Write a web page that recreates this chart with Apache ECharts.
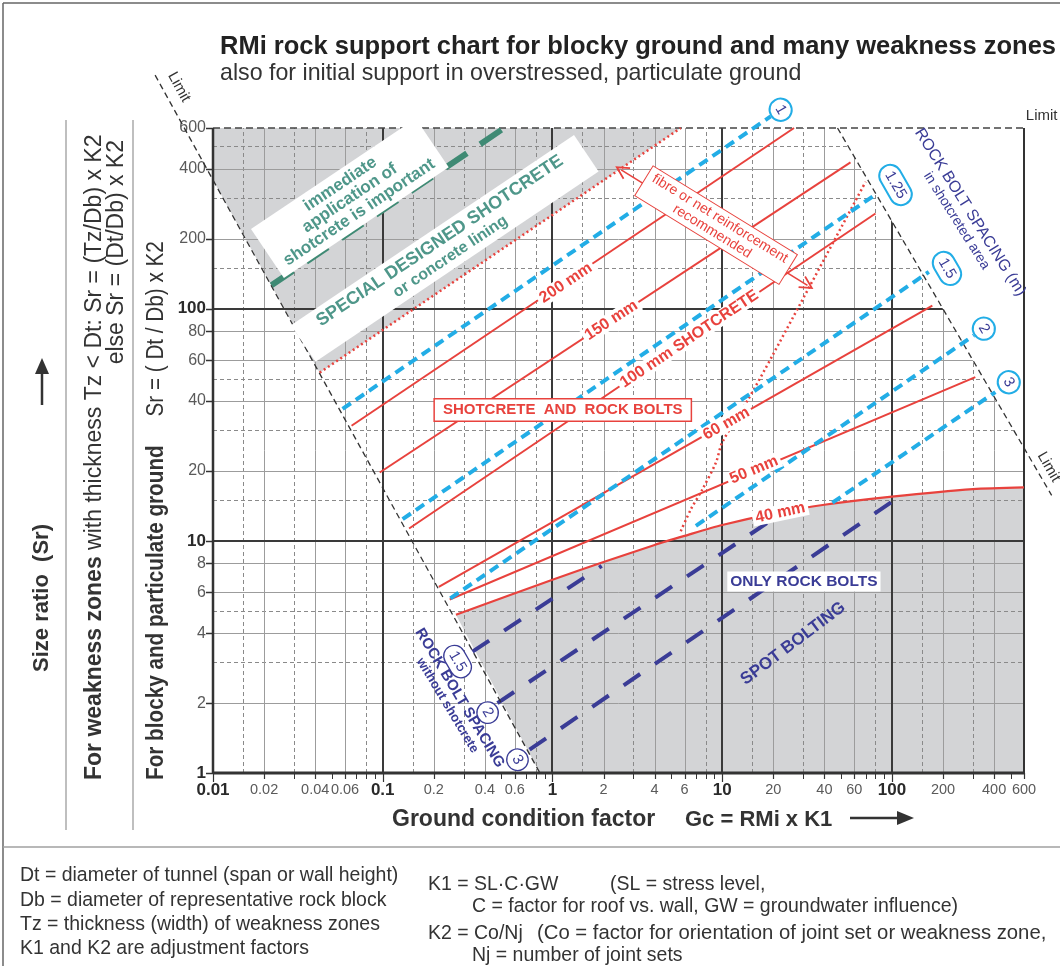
<!DOCTYPE html>
<html>
<head>
<meta charset="utf-8">
<title>RMi rock support chart</title>
<script src="https://cdn.jsdelivr.net/npm/echarts@6.0.0/dist/echarts.min.js"></script>
<style>
  html, body { margin: 0; padding: 0; background: #fff; }
  #chart { width: 1060px; height: 966px; }
</style>
</head>
<body>
<div id="chart"></div>
<script>
// ---------- axes ----------
const X_RANGE = [0.01, 600];
const Y_RANGE = [1, 600];
const xTickLabels = [0.01, 0.02, 0.04, 0.06, 0.1, 0.2, 0.4, 0.6, 1, 2, 4, 6, 10, 20, 40, 60, 100, 200, 400, 600];
const yTickLabels = [1, 2, 4, 6, 8, 10, 20, 40, 60, 80, 100, 200, 400, 600];
const xTickMarks = [0.02, 0.03, 0.04, 0.05, 0.06, 0.07, 0.08, 0.09,
  0.2, 0.3, 0.4, 0.5, 0.6, 0.7, 0.8, 0.9, 2, 3, 4, 5, 6, 7, 8, 9,
  20, 30, 40, 50, 60, 70, 80, 90, 200, 300, 400, 500];
const xGridMajor = [0.1, 1, 10, 100];
const xGridSolid = [0.02, 0.04, 0.06, 0.2, 0.4, 0.6, 2, 4, 6, 20, 40, 60, 200, 400];
const xGridDashed = [0.015, 0.03, 0.08, 0.15, 0.3, 0.8, 1.5, 3, 8, 15, 30, 80, 150, 300];
const yGridMajor = [10, 100];
const yGridSolid = [2, 4, 6, 8, 20, 40, 60, 80, 200, 400];
const yGridDashed = [3, 5, 15, 30, 50, 150, 300, 500];

// ---------- limits of the chart (Gc, Sr) ----------
const limitLeft = [[0.00456, 1014], [0.843, 1]];
const limitRight = [[47.8, 600], [873, 15.7]];
const limitTop = [[0.01, 600], [600, 600]];

// ---------- shotcrete thickness lines (Gc, Sr) ----------
const shot200 = [[0.0655, 31.3], [26.5, 600]];
const shot150 = [[0.096, 19.7], [57, 427]];
const shot100 = [[0.143, 11.3], [80, 257]];
const shot60 = [[0.214, 6.34], [173, 103]];
const shot50 = [[0.248, 5.59], [310, 50.7]];
const shot40 = [[0.27, 4.8], [1, 6.8], [2, 8.1], [4, 9.6], [6, 10.5], [10, 11.7], [20, 13.1], [40, 14.3], [100, 15.5], [300, 16.7], [600, 17.0]];

// ---------- rock bolt spacing in shotcreted area (m) ----------
const bolt1 = [[0.058, 37], [19.3, 673]];
const bolt125 = [[0.131, 12.4], [82, 314]];
const bolt15 = [[0.25, 5.65], [165, 144]];
const bolt2 = [[7.0, 11.6], [304, 76.7]];
const bolt3 = [[44.6, 14.6], [407, 43.7]];

// ---------- rock bolt spacing without shotcrete (m) ----------
const spot15 = [[0.338, 3.33], [1.95, 7.8]];
const spot2 = [[0.474, 2.0], [18.9, 12.1]];
const spot3 = [[0.733, 1.26], [105, 15.1]];

// ---------- other boundaries ----------
const immediateLine = [[0.0221, 126], [0.5, 589]];
const specialLimit = [[0.0425, 53], [5.7, 600]];
const fibreLimit = [[5.7, 11.0], [6.55, 13.7], [7.66, 16.7], [9.2, 21.8], [10, 26.5], [14.1, 40.2], [19.8, 62.9], [70, 352]];
const fibreArrow = [[2.54, 396], [31.8, 126]];

// ---------- shaded zones ----------
const zoneSpecial = [[0.01, 600], [5.7, 600], [0.0425, 53], [0.01, 358]];
const zoneBoltsOnly = [[0.843, 1], [600, 1]].concat(shot40.slice().reverse());
const zoneOutside = [[47.8, 600], [600, 600], [600, 25.1]];

// ---------- circled spacing values ----------
const circlesShot = [['1', [22.1, 719]], ['1.25', [105, 341]], ['1.5', [211, 149]], ['2', [348, 82]], ['3', [488, 48.2]]];
const circlesNoShot = [['1.5', [0.276, 3.02]], ['2', [0.415, 1.82]], ['3', [0.622, 1.14]]];

// ---------- texts in the diagram ----------
const notes = [
  ['200 mm', [1.2, 129], 33.8, 'thick'],
  ['150 mm', [2.22, 89], 33.2, 'thick'],
  ['100 mm SHOTCRETE', [6.4, 74], 33.9, 'thick'],
  ['60 mm', [10.6, 32], 29.6, 'thick'],
  ['50 mm', [15.4, 20.2], 22.8, 'thick'],
  ['40 mm', [22, 13.2], 12, 'thick'],
  ['SHOTCRETE  AND  ROCK BOLTS', [1.15, 36.6], 0, 'redBox'],
  ['ONLY ROCK BOLTS', [30.3, 6.68], 0, 'navyBox'],
  ['SPOT BOLTING', [26.2, 3.61], 37, 'spot'],
  ['fibre or net reinforcement\nrecommended', [9.2, 229], -31.6, 'fibre'],
  ['immediate\napplication of\nshotcrete is important', [0.064, 299], 33.9, 'teal'],
  ['{a|SPECIAL DESIGNED SHOTCRETE}\n{b|or concrete lining}', [0.232, 182], 33.9, 'tealBand'],
  ['ROCK BOLT SPACING (m)\n{s|in shotcreted area}', [265, 250], -57.8, 'navyThin'],
  ['ROCK BOLT SPACING\n{s|without shotcrete}', [0.262, 2.03], -59, 'navyBold'],
  ['Limit', [0.0063, 900], -61, 'limit'],
  ['Limit', [839, 20.8], -60, 'limit'],
  ['Limit', [762, 675], 0, 'limit']
];

// ---------- styles ----------
const FONT = '"Liberation Sans", Arial, sans-serif';
const RED = '#e8423d';
const BLUE = '#22ade6';
const NAVY = '#3a3c96';
const TEAL = '#3f8a74';
const TEAL_TXT = '#4f978a';
const GREY_FILL = '#d3d4d6';

const labelStyles = {
  thick: { color: RED, fontWeight: 'bold', fontSize: 16, backgroundColor: '#fff', padding: [0, 3] },
  redBox: { color: RED, fontWeight: 'bold', fontSize: 15, backgroundColor: '#fff', borderColor: RED, borderWidth: 1.5, padding: [3, 8] },
  navyBox: { color: NAVY, fontWeight: 'bold', fontSize: 15.5, backgroundColor: '#fff', padding: [2, 3] },
  spot: { color: NAVY, fontWeight: 'bold', fontSize: 17 },
  fibre: { color: RED, fontSize: 14, lineHeight: 15, backgroundColor: '#fff', borderColor: RED, borderWidth: 1, padding: [2, 6], align: 'center' },
  teal: { color: TEAL_TXT, fontWeight: 'bold', fontSize: 17, lineHeight: 17, backgroundColor: '#fff', padding: [4, 10], align: 'center' },
  tealBand: { backgroundColor: '#fff', padding: [3, 24], align: 'center',
    rich: { a: { color: TEAL_TXT, fontWeight: 'bold', fontSize: 18, lineHeight: 20, fontFamily: FONT },
            b: { color: TEAL_TXT, fontWeight: 'bold', fontSize: 16, lineHeight: 18, fontFamily: FONT } } },
  navyThin: { color: NAVY, fontSize: 16, lineHeight: 17, align: 'center',
    rich: { s: { color: NAVY, fontSize: 14, lineHeight: 15, fontFamily: FONT } } },
  navyBold: { color: NAVY, fontWeight: 'bold', fontSize: 15, lineHeight: 15, align: 'center',
    rich: { s: { color: NAVY, fontWeight: 'bold', fontSize: 13, lineHeight: 14, fontFamily: FONT } } },
  limit: { color: '#333', fontSize: 15 }
};

const gridStyle = {
  major: { stroke: '#3a3a3a', lineWidth: 2 },
  solid: { stroke: '#9c9c9c', lineWidth: 1 },
  dashed: { stroke: '#8a8a8a', lineWidth: 1, lineDash: [4, 3] }
};

// ---------- helpers ----------
function lineSeries(data, lineStyle, z, extra) {
  return Object.assign({
    type: 'line', data: data, symbol: 'none', silent: true, clip: false, z: z,
    lineStyle: lineStyle, animation: false
  }, extra || {});
}

function gridSeries(vals, dir, style, z) {
  return {
    type: 'custom', coordinateSystem: 'cartesian2d', silent: true, clip: false, z: z, animation: false,
    data: vals.map(v => dir === 'v' ? [v, Y_RANGE[0]] : [X_RANGE[0], v]),
    renderItem: function (params, api) {
      const v = api.value(dir === 'v' ? 0 : 1);
      const a = dir === 'v' ? api.coord([v, Y_RANGE[0]]) : api.coord([X_RANGE[0], v]);
      const b = dir === 'v' ? api.coord([v, Y_RANGE[1]]) : api.coord([X_RANGE[1], v]);
      const off = style.lineWidth % 2 === 1 ? 0.5 : 0;
      const shape = dir === 'v'
        ? { x1: Math.round(a[0]) + off, y1: a[1], x2: Math.round(b[0]) + off, y2: b[1] }
        : { x1: a[0], y1: Math.round(a[1]) + off, x2: b[0], y2: Math.round(b[1]) + off };
      return { type: 'line', shape: shape, style: { stroke: style.stroke, lineWidth: style.lineWidth, lineDash: style.lineDash || null } };
    }
  };
}

function zoneSeries(points, fill, z) {
  return {
    type: 'custom', coordinateSystem: 'cartesian2d', silent: true, clip: false, z: z, animation: false,
    data: points,
    renderItem: function (params, api) {
      if (params.dataIndex !== 0) return null;
      return { type: 'polygon', shape: { points: points.map(p => api.coord(p)) }, style: { fill: fill } };
    }
  };
}

// dashed guide drawn from chart coordinates, free to run past the plot frame
function guideSeries(points, stroke, width, dash, z) {
  return {
    type: 'custom', coordinateSystem: 'cartesian2d', silent: true, clip: false, z: z, animation: false,
    data: points,
    renderItem: function (params, api) {
      if (params.dataIndex !== 0) return null;
      const a = api.coord(points[0]), b = api.coord(points[points.length - 1]);
      return { type: 'line', shape: { x1: a[0], y1: a[1], x2: b[0], y2: b[1] }, style: { stroke: stroke, lineWidth: width, lineDash: dash } };
    }
  };
}

function isDecade(v) { return Math.abs(Math.log10(v) - Math.round(Math.log10(v))) < 1e-9; }

function tickLabelSeries(vals, axis) {
  return {
    type: 'custom', coordinateSystem: 'cartesian2d', silent: true, clip: false, z: 20, animation: false,
    data: vals.map(v => axis === 'x' ? [v, Y_RANGE[0]] : [X_RANGE[0], v]),
    renderItem: function (params, api) {
      const v = api.value(axis === 'x' ? 0 : 1);
      const p = axis === 'x' ? api.coord([v, Y_RANGE[0]]) : api.coord([X_RANGE[0], v]);
      const major = isDecade(v);
      const font = major ? 'bold 17px ' + FONT : (axis === 'x' ? '14.5px ' : '16px ') + FONT;
      const txt = { type: 'text', style: { text: String(v), font: font, fill: major ? '#2a2a2a' : '#5a5a5a' } };
      const tickLen = axis === 'x' ? (major ? 9 : 6) : 7;
      const tick = axis === 'x'
        ? { type: 'line', shape: { x1: Math.round(p[0]) + 0.5, y1: p[1], x2: Math.round(p[0]) + 0.5, y2: p[1] + tickLen }, style: { stroke: '#333', lineWidth: 1.2 } }
        : { type: 'line', shape: { x1: p[0] - tickLen, y1: Math.round(p[1]) + 0.5, x2: p[0], y2: Math.round(p[1]) + 0.5 }, style: { stroke: '#333', lineWidth: 1.5 } };
      if (axis === 'x') {
        txt.x = p[0]; txt.y = p[1] + 17;
        txt.style.align = 'center'; txt.style.textAlign = 'center';
      } else {
        txt.x = p[0] - 7; txt.y = p[1];
        txt.style.align = 'right'; txt.style.textAlign = 'right';
      }
      txt.style.verticalAlign = 'middle'; txt.style.textVerticalAlign = 'middle';
      return { type: 'group', children: [tick, txt] };
    }
  };
}

function minorTickSeries(vals) {
  return {
    type: 'custom', coordinateSystem: 'cartesian2d', silent: true, clip: false, z: 20, animation: false,
    data: vals.map(v => [v, Y_RANGE[0]]),
    renderItem: function (params, api) {
      const p = api.coord([api.value(0), Y_RANGE[0]]);
      const x = Math.round(p[0]) + 0.5;
      return { type: 'line', shape: { x1: x, y1: p[1], x2: x, y2: p[1] + 6 }, style: { stroke: '#333', lineWidth: 1 } };
    }
  };
}

function noteSeries(items, z) {
  return {
    type: 'scatter', silent: true, clip: false, z: z, animation: false, symbolSize: 0.001,
    itemStyle: { color: 'rgba(0,0,0,0)', opacity: 1 },
    data: items.map(n => ({
      value: n[1],
      label: Object.assign({ show: true, position: 'inside', formatter: n[0], rotate: n[2], fontFamily: FONT, align: 'center', verticalAlign: 'middle', opacity: 1 }, labelStyles[n[3]])
    }))
  };
}

function circleSeries(items, ring) {
  return {
    type: 'scatter', silent: true, clip: false, z: 30, animation: false, symbolSize: 0.001,
    itemStyle: { color: 'rgba(0,0,0,0)', opacity: 1 },
    data: items.map(c => ({
      value: c[1],
      label: { show: true, position: 'inside', formatter: c[0], rotate: -60, fontFamily: FONT, fontSize: 15, color: NAVY, opacity: 1,
        backgroundColor: '#fff', borderColor: ring, borderWidth: ring === BLUE ? 2 : 1.3, borderRadius: 13, padding: [3, 6, 2, 6], align: 'center', verticalAlign: 'middle' }
    }))
  };
}

// chevron arrow head, drawn by markLine at both ends
const ARROW = 'path://M0,14 L7,0 L14,14 L12.4,14.8 L7,4 L1.6,14.8 Z';

const series = [
  zoneSeries(zoneSpecial, GREY_FILL, 1),
  zoneSeries(zoneBoltsOnly, GREY_FILL, 1),
  gridSeries(xGridDashed, 'v', gridStyle.dashed, 2),
  gridSeries(yGridDashed, 'h', gridStyle.dashed, 2),
  gridSeries(xGridSolid, 'v', gridStyle.solid, 2),
  gridSeries(yGridSolid, 'h', gridStyle.solid, 2),
  gridSeries(xGridMajor, 'v', gridStyle.major, 3),
  gridSeries(yGridMajor, 'h', gridStyle.major, 3),
  zoneSeries(zoneOutside, '#fff', 4),
  // frame
  lineSeries([[X_RANGE[0], Y_RANGE[0]], [X_RANGE[0], Y_RANGE[1]]], { color: '#333', width: 2.5 }, 5),
  lineSeries([[X_RANGE[0], Y_RANGE[0]], [X_RANGE[1], Y_RANGE[0]]], { color: '#333', width: 3 }, 5),
  lineSeries([[X_RANGE[1], Y_RANGE[0]], [X_RANGE[1], Y_RANGE[1]]], { color: '#333', width: 2 }, 5),
  guideSeries(limitTop, '#444', 1.6, [7, 4], 5),
  guideSeries(limitLeft, '#333', 1.3, [6, 4], 21),
  guideSeries(limitRight, '#333', 1.3, [6, 4], 5),
  // boundaries
  lineSeries(immediateLine, { color: TEAL, width: 6, type: [26, 16] }, 6),
  lineSeries(specialLimit, { color: RED, width: 2.5, type: [2, 3] }, 6),
  lineSeries(fibreLimit, { color: RED, width: 2.5, type: [2, 3] }, 6, { smooth: 0.3 }),
  // shotcrete thickness
  lineSeries(shot200, { color: RED, width: 2 }, 7),
  lineSeries(shot150, { color: RED, width: 2 }, 7),
  lineSeries(shot100, { color: RED, width: 2 }, 7),
  lineSeries(shot60, { color: RED, width: 2 }, 7),
  lineSeries(shot50, { color: RED, width: 2 }, 7),
  lineSeries(shot40, { color: RED, width: 2.2 }, 7, { smooth: 0.25 }),
  // bolt spacing
  lineSeries(bolt1, { color: BLUE, width: 4, type: [10, 6] }, 8),
  lineSeries(bolt125, { color: BLUE, width: 4, type: [10, 6] }, 8),
  lineSeries(bolt15, { color: BLUE, width: 4, type: [10, 6] }, 8),
  lineSeries(bolt2, { color: BLUE, width: 4, type: [10, 6] }, 8),
  lineSeries(bolt3, { color: BLUE, width: 4, type: [10, 6] }, 8),
  lineSeries(spot15, { color: NAVY, width: 4, type: [20, 18] }, 8),
  lineSeries(spot2, { color: NAVY, width: 4, type: [20, 18] }, 8),
  lineSeries(spot3, { color: NAVY, width: 4, type: [20, 18] }, 8),
  // reinforcement arrow
  {
    type: 'line', data: [], silent: true, z: 9, animation: false,
    markLine: {
      silent: true, animation: false, symbol: [ARROW, ARROW], symbolSize: [14, 14],
      lineStyle: { color: RED, width: 1.6, type: 'solid' }, label: { show: false },
      data: [[{ coord: fibreArrow[0] }, { coord: fibreArrow[1] }]]
    }
  },
  // axis ticks and labels
  minorTickSeries(xTickMarks),
  tickLabelSeries(xTickLabels, 'x'),
  tickLabelSeries(yTickLabels, 'y'),
  // texts
  noteSeries(notes, 25),
  circleSeries(circlesShot, BLUE),
  circleSeries(circlesNoShot, NAVY)
];

// ---------- page texts ----------
function text(x, y, str, font, opts) {
  opts = opts || {};
  const el = { type: 'text', x: x, y: y, silent: true,
    style: { text: str, font: font, fill: opts.fill || '#333', align: opts.align || 'left', verticalAlign: 'middle' } };
  if (opts.rich) el.style.rich = opts.rich;
  if (opts.rotation) el.rotation = opts.rotation;
  if (opts.scaleX) el.scaleX = opts.scaleX;
  return el;
}
const UP = Math.PI / 2;
const FOOT = '20.5px ' + FONT;
const FOOT_OPTS = { scaleX: 0.95 };

const graphics = [
  { type: 'line', silent: true, shape: { x1: 3, y1: 3, x2: 1060, y2: 3 }, style: { stroke: '#666', lineWidth: 1.5 } },
  { type: 'line', silent: true, shape: { x1: 3, y1: 3, x2: 3, y2: 966 }, style: { stroke: '#666', lineWidth: 1.5 } },
  { type: 'line', silent: true, shape: { x1: 3, y1: 847, x2: 1060, y2: 847 }, style: { stroke: '#a0a0a0', lineWidth: 1.5 } },
  { type: 'line', silent: true, shape: { x1: 66, y1: 120, x2: 66, y2: 830 }, style: { stroke: '#aaa', lineWidth: 1.5 } },
  { type: 'line', silent: true, shape: { x1: 133, y1: 120, x2: 133, y2: 830 }, style: { stroke: '#aaa', lineWidth: 1.5 } },
  // title
  text(220, 47, 'RMi rock support chart for blocky ground and many weakness zones', 'bold 25.5px ' + FONT, { fill: '#222' }),
  text(220, 74, 'also for initial support in overstressed, particulate ground', '23.2px ' + FONT),
  // x axis name
  text(392, 820, 'Ground condition factor', 'bold 23px ' + FONT),
  text(685, 820, 'Gc = RMi x K1', 'bold 22px ' + FONT),
  { type: 'line', silent: true, shape: { x1: 850, y1: 818, x2: 900, y2: 818 }, style: { stroke: '#333', lineWidth: 2.5 } },
  { type: 'polygon', silent: true, shape: { points: [[897, 811], [914, 818], [897, 825]] }, style: { fill: '#333' } },
  // y axis names
  text(42, 598, 'Size ratio  (Sr)', 'bold 22px ' + FONT, { rotation: UP, align: 'center' }),
  { type: 'line', silent: true, shape: { x1: 42, y1: 405, x2: 42, y2: 372 }, style: { stroke: '#333', lineWidth: 2.5 } },
  { type: 'polygon', silent: true, shape: { points: [[35, 374], [42, 358], [49, 374]] }, style: { fill: '#333' } },
  text(95, 780, '{b|For weakness zones} with thickness Tz < Dt: Sr = (Tz/Db) x K2', '23px ' + FONT,
    { rotation: UP, rich: { b: { font: 'bold 23px ' + FONT, fill: '#333' } } }),
  text(117, 140, 'else Sr = (Dt/Db) x K2', '23px ' + FONT, { rotation: UP, align: 'right' }),
  text(157, 780, '{b|For blocky and particulate ground}     Sr = ( Dt / Db) x K2', '23px ' + FONT,
    { rotation: UP, scaleX: 0.9, rich: { b: { font: 'bold 23px ' + FONT, fill: '#333' } } }),
  // footnotes
  text(20, 875, 'Dt = diameter of tunnel (span or wall height)', FOOT, FOOT_OPTS),
  text(20, 900, 'Db = diameter of representative rock block', FOOT, FOOT_OPTS),
  text(20, 924, 'Tz = thickness (width) of weakness zones', FOOT, FOOT_OPTS),
  text(20, 948, 'K1 and K2 are adjustment factors', FOOT, FOOT_OPTS),
  text(428, 884, 'K1 = SL\u00b7C\u00b7GW', FOOT, FOOT_OPTS),
  text(610, 884, '(SL = stress level,', FOOT, FOOT_OPTS),
  text(472, 906, 'C = factor for roof vs. wall, GW = groundwater influence)', FOOT, FOOT_OPTS),
  text(428, 933, 'K2 = Co/Nj', FOOT, FOOT_OPTS),
  text(537, 933, '(Co = factor for orientation of joint set or weakness zone,', FOOT, { scaleX: 0.99 }),
  text(472, 955, 'Nj = number of joint sets', FOOT, FOOT_OPTS)
];

const chart = echarts.init(document.getElementById('chart'), null, { renderer: 'canvas' });
chart.setOption({
  animation: false,
  backgroundColor: '#fff',
  textStyle: { fontFamily: FONT },
  grid: { left: 213, right: 36, top: 128, bottom: 193 },
  xAxis: {
    type: 'log', logBase: 10, min: X_RANGE[0], max: X_RANGE[1],
    axisLine: { show: false }, axisTick: { show: false }, axisLabel: { show: false }, splitLine: { show: false }
  },
  yAxis: {
    type: 'log', logBase: 10, min: Y_RANGE[0], max: Y_RANGE[1],
    axisLine: { show: false }, axisTick: { show: false }, axisLabel: { show: false }, splitLine: { show: false }
  },
  series: series,
  graphic: { elements: graphics }
});
</script>
</body>
</html>
